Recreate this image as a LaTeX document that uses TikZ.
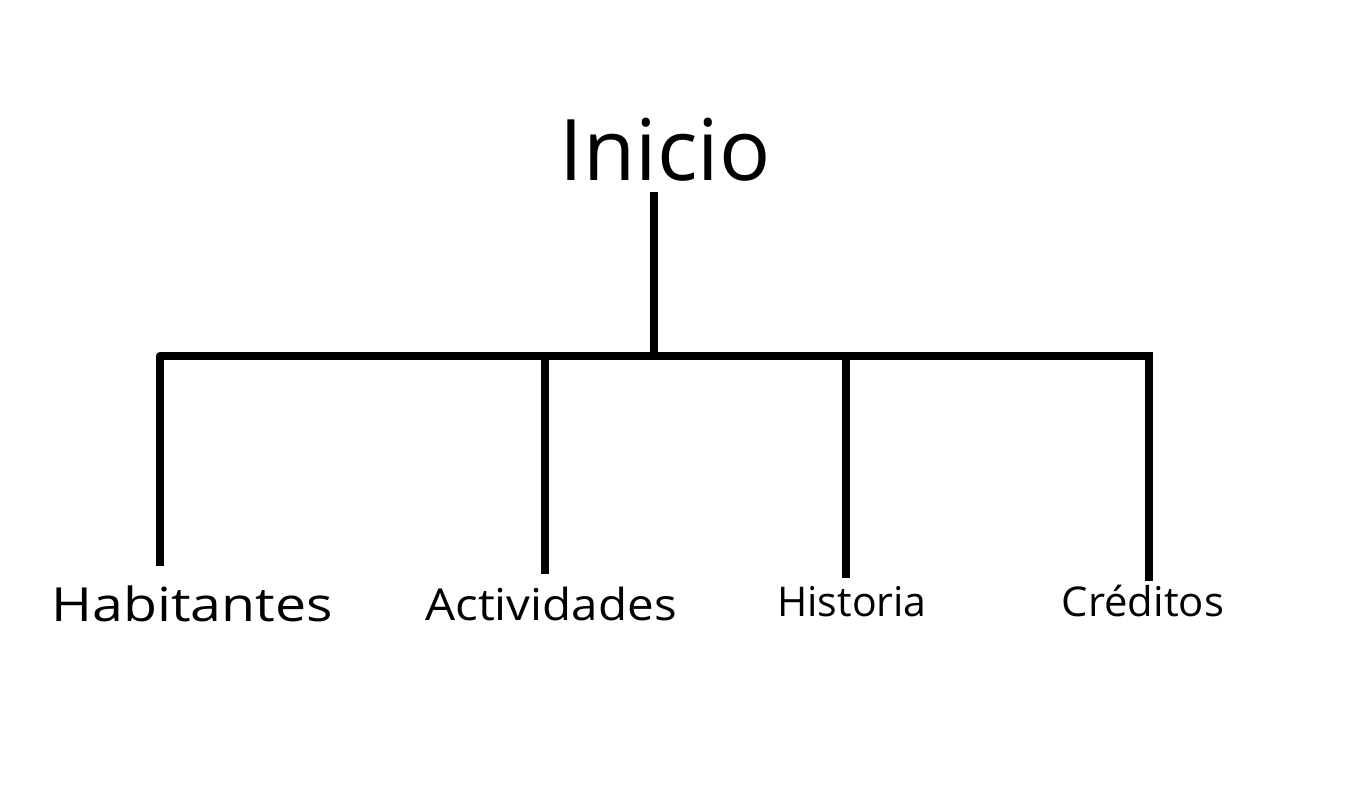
\documentclass[tikz,border=0pt]{standalone}
\usepackage{fontspec}
\setmainfont{Open Sans}
\begin{document}
\begin{tikzpicture}[x=1pt,y=-1pt,
  conn/.style={line width=8pt,line join=round,line cap=butt},
  lbl/.style={anchor=base,inner sep=0pt,font=\fontsize{41}{48}\selectfont}]
\useasboundingbox (0,0) rectangle (1366,808);
\node[anchor=base,inner sep=0pt,font=\fontsize{85}{100}\selectfont] (inicio) at (665,180) {Inicio};
\node[lbl,font=\fontsize{47}{54}\selectfont,xscale=1.18] (hab) at (192,621) {Habitantes};
\node[lbl,font=\fontsize{44}{50}\selectfont,xscale=1.08] (act) at (551,620) {Actividades};
\node[lbl] (his) at (852,616) {Historia};
\node[lbl,xscale=1.02] (cre) at (1143,616) {Créditos};
\coordinate (itop) at (654,192);
\coordinate (ibot) at (654,356);
\coordinate (htop) at (160,356);
\coordinate (hend) at (160,566);
\coordinate (atop) at (545,356);
\coordinate (aend) at (545,574);
\coordinate (stop) at (846,356);
\coordinate (send) at (846,578);
\coordinate (ctop) at (1149,356);
\coordinate (cend) at (1149,581);
\draw[conn] (itop) -- (ibot);
\draw[conn] (hend) -- (htop) -- (1153,356);
\draw[conn] (atop) -- (aend);
\draw[conn] (stop) -- (send);
\draw[conn] (ctop) -- (cend);
\end{tikzpicture}
\end{document}
